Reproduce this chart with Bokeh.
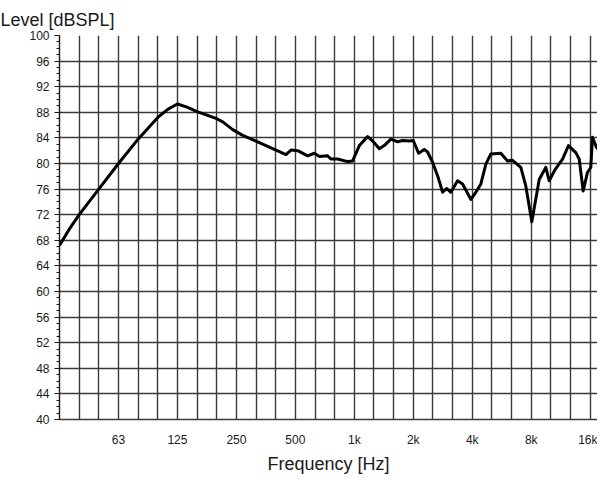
from bokeh.plotting import figure
from bokeh.models import Range1d, FixedTicker, Title
from bokeh.embed import file_html
from bokeh.resources import INLINE

# Data (frequency in Hz, level in dB SPL)
freqs = [31.25, 35, 39.4, 49.6, 62.5, 78.7, 99.2, 112, 125, 140, 157.5, 198.4, 212.9, 239.4,
         269.2, 314.7, 398, 447.8, 474.7, 513.7, 577.5, 625, 663, 730.6, 759, 822, 924, 980,
         1061, 1169, 1240, 1342, 1422, 1537, 1663, 1764, 1908, 2000, 2129, 2275, 2365, 2509,
         2661, 2823, 2957, 3110, 3366, 3570, 3934, 4172, 4426, 4695, 4976, 5598, 6055, 6422,
         7080, 7506, 8056, 8790, 9495, 9884, 10609, 11559, 12397, 13512, 14064, 14735, 15497,
         16113, 16439, 17232, 18126, 19146]
levels = [67.2, 69.7, 72.0, 76.0, 80.0, 83.8, 87.2, 88.5, 89.3, 88.8, 88.1, 87.0, 86.5, 85.3,
          84.4, 83.5, 82.1, 81.4, 82.1, 82.0, 81.2, 81.6, 81.1, 81.2, 80.7, 80.7, 80.3, 80.4,
          82.8, 84.2, 83.5, 82.3, 82.8, 83.8, 83.4, 83.6, 83.5, 83.6, 81.6, 82.2, 81.8, 80.2,
          78.1, 75.5, 76.1, 75.5, 77.3, 76.8, 74.4, 75.5, 76.8, 79.9, 81.5, 81.6, 80.4, 80.5,
          79.4, 76.5, 70.9, 77.5, 79.4, 77.3, 79.1, 80.7, 82.8, 81.7, 80.7, 75.7, 78.6, 79.4,
          84.1, 82.5, 81.8, 80.4]

x_tick_values = [62.5, 125, 250, 500, 1000, 2000, 4000, 8000, 16000]
x_tick_labels = ["63", "125", "250", "500", "1k", "2k", "4k", "8k", "16k"]
y_ticks = list(range(40, 101, 4))

FONT = "Liberation Sans"

p = figure(width=597, height=476, x_axis_type="log",
           x_range=Range1d(31.25, 17437), y_range=Range1d(40, 100),
           output_backend="svg", toolbar_location=None,
           min_border_left=59, min_border_right=0, min_border_top=35, min_border_bottom=57)
p.outline_line_color = None
p.background_fill_color = "white"

# title as y-axis caption
p.title.text = "Level [dBSPL]"
p.title.align = "left"
p.title.offset = -59
p.title.standoff = 12
p.title.text_font = FONT
p.title.text_font_size = "18px"
p.title.text_font_style = "normal"
p.title.text_color = "#1a1a1a"

# x-axis caption as a title below, shifted slightly right
xcap = Title(text="Frequency [Hz]", align="center", offset=9, standoff=4,
             text_font=FONT, text_font_size="18px", text_font_style="normal",
             text_color="#1a1a1a")
p.add_layout(xcap, "below")

# grids
third_octaves = [1000 * 2 ** (k / 3) for k in range(-14, 13)]
p.xgrid.ticker = FixedTicker(ticks=third_octaves)
p.ygrid.ticker = FixedTicker(ticks=y_ticks)
for g in (p.xgrid, p.ygrid):
    g.grid_line_color = "#3a3a3a"
    g.grid_line_width = 1.4
    g.grid_line_alpha = 1.0

# x axis
p.xaxis.ticker = FixedTicker(ticks=x_tick_values, minor_ticks=[])
p.xaxis.major_label_overrides = {v: s for v, s in zip(x_tick_values, x_tick_labels)}
p.xaxis.major_tick_out = 0
p.xaxis.major_tick_in = 0
p.xaxis.minor_tick_out = 0
p.xaxis.minor_tick_in = 0
p.xaxis.major_label_standoff = 13
p.xaxis.axis_line_color = "#3a3a3a"
p.xaxis.axis_line_width = 1.4

# y axis
p.yaxis.ticker = FixedTicker(ticks=y_ticks, minor_ticks=list(range(40, 101)))
p.yaxis.major_tick_out = 5
p.yaxis.major_tick_in = 0
p.yaxis.minor_tick_out = 3
p.yaxis.minor_tick_in = 0
p.yaxis.major_tick_line_color = "#1a1a1a"
p.yaxis.minor_tick_line_color = "#1a1a1a"
p.yaxis.major_tick_line_width = 1.2
p.yaxis.minor_tick_line_width = 1.2
p.yaxis.major_label_standoff = 5
p.yaxis.axis_line_color = "#1a1a1a"
p.yaxis.axis_line_width = 1.4

for ax in (p.xaxis, p.yaxis):
    ax.major_label_text_font = FONT
    ax.major_label_text_font_size = "12px"
    ax.major_label_text_color = "#1a1a1a"

p.line(freqs, levels, line_color="black", line_width=3, line_join="round")

open("out.html", "w").write(file_html(p, INLINE))
